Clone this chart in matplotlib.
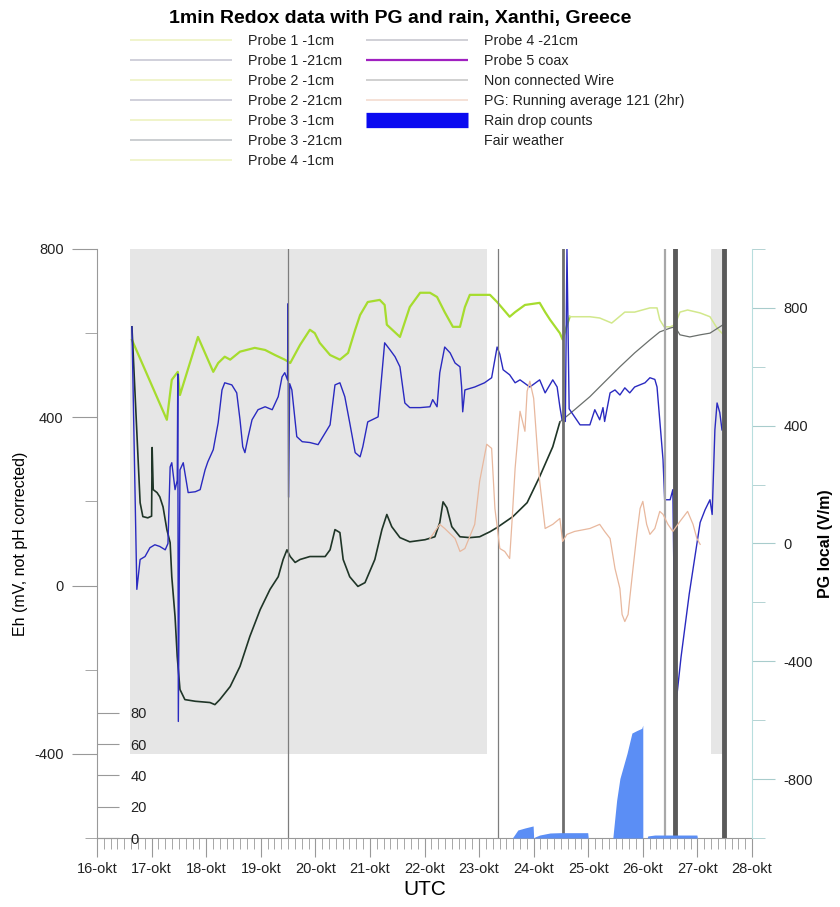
import numpy as np
import matplotlib
matplotlib.use("Agg")
import matplotlib.pyplot as plt
from matplotlib.lines import Line2D

plt.rcParams["font.family"] = ["Liberation Sans", "DejaVu Sans"]
plt.rcParams["axes.unicode_minus"] = False

# x = day of October (UTC)
days = list(range(16, 29))
day_labels = [f"{d}-okt" for d in days]

# Probe -1cm (green, upper line), Eh in mV
green_day = [16.64, 17.28, 17.37, 17.48, 17.52, 17.85, 18.13, 18.22, 18.34, 18.44, 18.62, 18.89,
             19.08, 19.26, 19.44, 19.54, 19.72, 19.90, 19.99, 20.08, 20.27, 20.45, 20.60, 20.73,
             20.82, 20.96, 21.18, 21.27, 21.31, 21.55, 21.73, 21.92, 22.10, 22.23, 22.37, 22.52,
             22.65, 22.74, 22.83, 23.20, 23.33, 23.56, 23.66, 23.84, 24.11, 24.21, 24.30, 24.48,
             24.53, 24.66, 25.03, 25.21, 25.43, 25.67, 25.85, 26.13, 26.26, 26.31, 26.39, 26.50,
             26.59, 26.68, 26.82, 27.05, 27.23, 27.36, 27.45]
green_eh = [584, 394, 489, 508, 453, 591, 508, 529, 544, 537, 556, 565,
            560, 548, 537, 529, 572, 608, 600, 577, 548, 537, 553, 608,
            643, 674, 679, 667, 620, 591, 662, 696, 696, 686, 650, 615,
            615, 662, 691, 691, 674, 639, 650, 667, 672, 650, 632, 600,
            585, 639, 639, 636, 624, 650, 650, 660, 660, 632, 615, 615,
            620, 650, 655, 648, 639, 612, 600]

# Probe -21cm (blue, middle line)
blue_day = [16.64, 16.73, 16.79, 16.88, 16.97, 17.06, 17.15, 17.25, 17.30, 17.34, 17.37, 17.43,
            17.47, 17.48, 17.49, 17.52, 17.58, 17.67, 17.80, 17.89, 17.98, 18.03, 18.13, 18.22,
            18.29, 18.34, 18.47, 18.56, 18.62, 18.67, 18.71, 18.77, 18.84, 18.95, 19.08, 19.21,
            19.32, 19.39, 19.44, 19.49, 19.50, 19.51, 19.53, 19.57, 19.66, 19.76, 19.90, 20.05,
            20.18, 20.27, 20.36, 20.45, 20.54, 20.63, 20.73, 20.82, 20.87, 20.96, 21.04, 21.15,
            21.27, 21.37, 21.46, 21.55, 21.64, 21.73, 21.92, 22.10, 22.15, 22.23, 22.28, 22.37,
            22.47, 22.56, 22.65, 22.68, 22.70, 22.74, 22.92, 23.10, 23.23, 23.33, 23.38, 23.44,
            23.56, 23.66, 23.75, 23.93, 24.11, 24.21, 24.35, 24.43, 24.48, 24.52, 24.58, 24.61,
            24.65, 24.75, 24.85, 25.03, 25.12, 25.21, 25.27, 25.30, 25.40, 25.49, 25.58, 25.67,
            25.76, 25.85, 26.04, 26.13, 26.22, 26.26, 26.31, 26.37, 26.40, 26.50, 26.55, 26.60,
            26.70, 26.85, 27.05, 27.14, 27.23, 27.27, 27.29, 27.32, 27.36, 27.41, 27.45]
blue_eh = [615, -9, 62, 69, 90, 97, 93, 85, 100, 282, 292, 228,
           250, 503, -323, 275, 292, 221, 223, 228, 275, 294, 323, 387,
           465, 482, 477, 458, 394, 330, 316, 354, 394, 418, 425, 418,
           449, 496, 506, 489, 670, 210, 480, 465, 354, 342, 340, 335,
           363, 382, 477, 482, 449, 387, 316, 306, 330, 389, 394, 401,
           577, 560, 544, 520, 434, 423, 423, 425, 442, 425, 506, 567,
           553, 529, 520, 472, 413, 465, 472, 482, 494, 567, 550, 513,
           501, 482, 489, 472, 489, 458, 489, 472, 425, 394, 390, 800,
           420, 401, 382, 382, 418, 394, 423, 390, 458, 465, 453, 470,
           458, 472, 482, 494, 490, 472, 394, 299, 204, 204, 228, -290,
           -170, -20, 150, 180, 204, 169, 252, 370, 434, 411, 370]

# Probe -21cm (dark, lower line)
dark_day = [16.64, 16.79, 16.84, 16.93, 17.00, 17.01, 17.03, 17.10, 17.15, 17.21, 17.28, 17.34,
            17.37, 17.43, 17.47, 17.52, 17.61, 17.80, 18.07, 18.16, 18.25, 18.44, 18.62, 18.80,
            18.99, 19.17, 19.32, 19.41, 19.48, 19.54, 19.63, 19.72, 19.90, 20.18, 20.27, 20.36,
            20.45, 20.51, 20.63, 20.78, 20.91, 21.09, 21.22, 21.31, 21.40, 21.55, 21.73, 22.01,
            22.19, 22.28, 22.34, 22.41, 22.50, 22.65, 22.83, 23.01, 23.20, 23.33, 23.62, 23.88,
            24.11, 24.35, 24.48, 24.75, 25.03, 25.30, 25.58, 25.85, 26.13, 26.31, 26.50, 26.59,
            26.68, 26.86, 27.05, 27.23, 27.41, 27.47]
dark_eh = [615, 197, 164, 161, 165, 328, 228, 221, 211, 187, 133, 102,
           21, -74, -169, -247, -271, -275, -278, -283, -271, -240, -192, -121,
           -57, -9, 21, 62, 85, 69, 55, 62, 69, 69, 85, 133,
           126, 62, 21, -2, 7, 62, 133, 169, 140, 114, 104, 109,
           116, 150, 199, 185, 140, 116, 114, 116, 128, 138, 164, 197,
           259, 330, 389, 418, 449, 484, 520, 553, 584, 603, 612, 615,
           596, 591, 596, 600, 615, 620]

# PG running average (V/m, right axis)
pg_day = [22.10, 22.28, 22.37, 22.56, 22.65, 22.74, 22.92, 23.01, 23.14, 23.23, 23.29, 23.38,
          23.47, 23.56, 23.60, 23.66, 23.75, 23.84, 23.88, 23.93, 24.00, 24.11, 24.21, 24.35,
          24.48, 24.53, 24.61, 24.75, 25.03, 25.21, 25.30, 25.40, 25.49, 25.58, 25.62, 25.67,
          25.73, 25.76, 25.82, 25.89, 25.95, 26.00, 26.07, 26.13, 26.22, 26.31, 26.37, 26.46,
          26.55, 26.68, 26.82, 26.92, 26.99, 27.05]
pg_val = [17, 65, 51, 17, -27, -17, 65, 211, 337, 323, 119, -17,
          -27, -51, 65, 255, 449, 381, 517, 551, 493, 211, 51, 65,
          85, 7, 31, 41, 51, 65, 41, 17, -85, -153, -241, -265,
          -241, -187, -85, 31, 119, 143, 65, 31, 51, 109, 99, 65,
          41, 75, 109, 65, 17, -3]

# Rain drop counts
rain_day = [23.60, 23.62, 23.71, 23.84, 23.99, 24.00, 24.01, 24.02, 24.11, 24.30, 24.48, 24.99,
            25.00, 25.45, 25.52, 25.58, 25.71, 25.80, 25.89, 25.98, 25.999, 26.00, 26.08, 26.09,
            26.22, 26.99, 27.00]
rain_cnt = [0, 0.5, 5.1, 6.4, 7.7, 0, 0, 0.6, 1.9, 3.2, 3.4, 3.4,
            0, 0, 24, 38, 54, 67, 68.6, 70, 72, 0, 0, 1.3,
            1.9, 1.9, 0]

# Fair weather periods and event markers
fair_spans = [(16.60, 23.14), (27.25, 27.48)]
thin_marks = [19.50, 23.34]
mid_marks = [24.53]
light_marks = [26.40]
thick_marks = [26.59, 27.48]

fig = plt.figure(figsize=(8.4, 9.07), dpi=100)
ax = fig.add_axes([97 / 840, 1 - 838 / 907, 655 / 840, 589 / 907])
ax2 = ax.twinx()
ax3 = ax.twinx()

for d0, d1 in fair_spans:
    ax.fill_between([d0, d1], -400, 800, color="#e6e6e6", lw=0, zorder=0)

gd = np.array(green_day)
ge = np.array(green_eh)
cut = np.searchsorted(gd, 24.55)
ax.plot(gd[:cut + 1], ge[:cut + 1], color="#a6dc2e", lw=1.6, zorder=3)
ax.plot(gd[cut:], ge[cut:], color="#d2e88c", lw=1.1, zorder=3)

dd = np.array(dark_day)
de = np.array(dark_eh)
k = np.searchsorted(dd, 24.48)
ax.plot(dd[:k + 1], de[:k + 1], color="#1f3527", lw=1.2, zorder=3)
ax.plot(dd[k:], de[k:], color="#6a6f6c", lw=0.9, zorder=3)

ax.plot(blue_day, blue_eh, color="#2a2ac0", lw=1.0, zorder=4)

for d in thin_marks:
    ax.axvline(d, color="#7d7d7d", lw=0.9, zorder=5)
for d in mid_marks:
    ax.axvline(d, color="#6e6e6e", lw=2.0, zorder=5)
for d in light_marks:
    ax.axvline(d, color="#a8a8a8", lw=1.6, zorder=5)
for d in thick_marks:
    ax.axvline(d, color="#5a5a5a", lw=3.5, zorder=5)

ax2.plot(pg_day, pg_val, color="#e8b89e", lw=0.9)
ax3.fill_between(rain_day, rain_cnt, color="#5b8ef5", lw=0)

# left axis (Eh)
ax.set_xlim(16, 28)
ax.set_ylim(-600, 800)
ax.set_yticks([-400, 0, 400, 800])
ax.set_yticks([-600, -200, 200, 600], minor=True)
ax.set_xticks(days)
ax.set_xticklabels(day_labels)
ax.set_xticks(np.arange(16, 28.01, 0.125), minor=True)
ax.tick_params(axis="y", which="major", length=18, pad=6, color="#999999", labelsize=10.5, labelcolor="#222222")
ax.tick_params(axis="y", which="minor", length=9, color="#999999")
ax.tick_params(axis="x", which="major", length=14, pad=3, color="#999999", labelsize=10.5, labelcolor="#222222")
ax.tick_params(axis="x", which="minor", length=8, color="#999999")
for s in ["top", "right"]:
    ax.spines[s].set_visible(False)
for s in ["left", "bottom"]:
    ax.spines[s].set_color("#999999")
ax.set_ylabel("Eh (mV, not pH corrected)", fontsize=11.5)
ax.yaxis.set_label_coords(-0.106, 0.5)
ax.set_xlabel("UTC", fontsize=15)
ax.xaxis.set_label_coords(0.5, -0.072)

# right axis (PG)
ax2.set_ylim(-1000, 1000)
ax2.set_yticks([-800, -400, 0, 400, 800])
ax2.set_yticks([-1000, -600, -200, 200, 600, 1000], minor=True)
ax2.tick_params(axis="y", which="major", length=16.5, pad=6, color="#a8cccc", labelsize=10.5, labelcolor="#222222")
ax2.tick_params(axis="y", which="minor", length=9, color="#a8cccc")
for s in ["top", "left", "bottom"]:
    ax2.spines[s].set_visible(False)
ax2.spines["right"].set_color("#b8dede")
ax2.set_ylabel("PG local (V/m)", fontsize=11.5, fontweight="bold")
ax2.yaxis.set_label_coords(1.100, 0.5)

# rain axis (inner left)
ax3.set_ylim(0, 376)
ax3.yaxis.set_ticks_position("left")
ax3.set_yticks([0, 20, 40, 60, 80])
ax3.tick_params(axis="y", direction="in", length=16, pad=-24, color="#999999", labelsize=10.5, labelcolor="#222222")
for lab in ax3.get_yticklabels():
    lab.set_horizontalalignment("left")
for s in ax3.spines.values():
    s.set_visible(False)

fig.text(0.477, 0.980, "1min Redox data with PG and rain, Xanthi, Greece",
         ha="center", va="center", fontsize=14, fontweight="bold")

leg_names = ["Probe 1 -1cm", "Probe 1 -21cm", "Probe 2 -1cm", "Probe 2 -21cm", "Probe 3 -1cm",
             "Probe 3 -21cm", "Probe 4 -1cm", "Probe 4 -21cm", "Probe 5 coax",
             "Non connected Wire", "PG: Running average 121 (2hr)", "Rain drop counts", "Fair weather"]
leg_colors = ["#eef2c4", "#c8c8d4", "#eef2c4", "#c8c8d4", "#eef2c0", "#c2c6ca", "#eef2c4",
              "#c8c8d0", "#a020c0", "#c8c8c8", "#f4dcd0", "#0a0af0", "none"]
leg_widths = [1.2] * 8 + [1.6, 1.2, 1.2, 11, 1.2]
handles = [Line2D([0], [0], color=c, lw=w, solid_capstyle="butt") for c, w in zip(leg_colors, leg_widths)]
fig.legend(handles, leg_names, loc="upper left", bbox_to_anchor=(130 / 840, 1 - 34 / 907), ncol=2,
           frameon=False, fontsize=10.3, handlelength=7.1, handletextpad=1.15, columnspacing=1.7,
           labelspacing=0.42, borderpad=0, borderaxespad=0, labelcolor="#222222")

fig.savefig("out.png", dpi=100)
